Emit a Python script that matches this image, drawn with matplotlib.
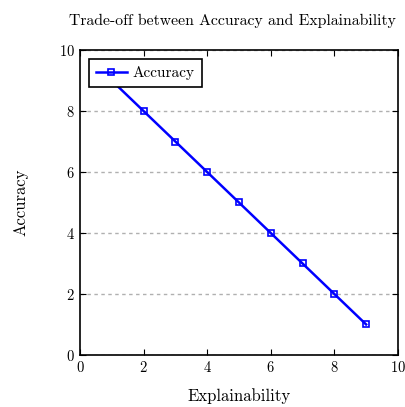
import matplotlib
matplotlib.use('Agg')
import matplotlib.pyplot as plt

explainability = [1, 2, 3, 4, 5, 6, 7, 8, 9]
accuracy = [9, 8, 7, 6, 5, 4, 3, 2, 1]

plt.rcParams['font.family'] = ['cmr10', 'DejaVu Serif']
plt.rcParams['axes.formatter.use_mathtext'] = True
plt.rcParams['mathtext.fontset'] = 'cm'

fig = plt.figure(figsize=(4.06, 4.07), dpi=100)
ax = fig.add_axes([0.197, 0.128, 0.783, 0.749])

ax.plot(explainability, accuracy, color='blue', linewidth=1.8, marker='s',
        markersize=5, markerfacecolor='none', markeredgecolor='blue',
        markeredgewidth=1.2, label='Accuracy')

ax.set_xlim(0, 10)
ax.set_ylim(0, 10)
ax.set_xticks([0, 2, 4, 6, 8, 10])
ax.set_yticks([0, 2, 4, 6, 8, 10])
ax.yaxis.grid(True, linestyle=(0, (2.5, 2.5)), color='#b0b0b0', linewidth=1.0)
ax.tick_params(direction='in', top=True, right=True, length=4, labelsize=10.5)
for s in ax.spines.values():
    s.set_linewidth(1.2)

ax.set_title('Trade-off between Accuracy and Explainability', fontsize=11.3,
             pad=18, x=0.48)
ax.set_xlabel('Explainability', fontsize=12, labelpad=10)
ax.set_ylabel('Accuracy', fontsize=12, labelpad=22)

leg = ax.legend(loc='upper left', fontsize=11, fancybox=False, edgecolor='black',
                framealpha=1, handlelength=2.0, handletextpad=0.4,
                borderaxespad=0.6, borderpad=0.45)
leg.get_frame().set_linewidth(1.2)

fig.savefig('out.png', dpi=100)
